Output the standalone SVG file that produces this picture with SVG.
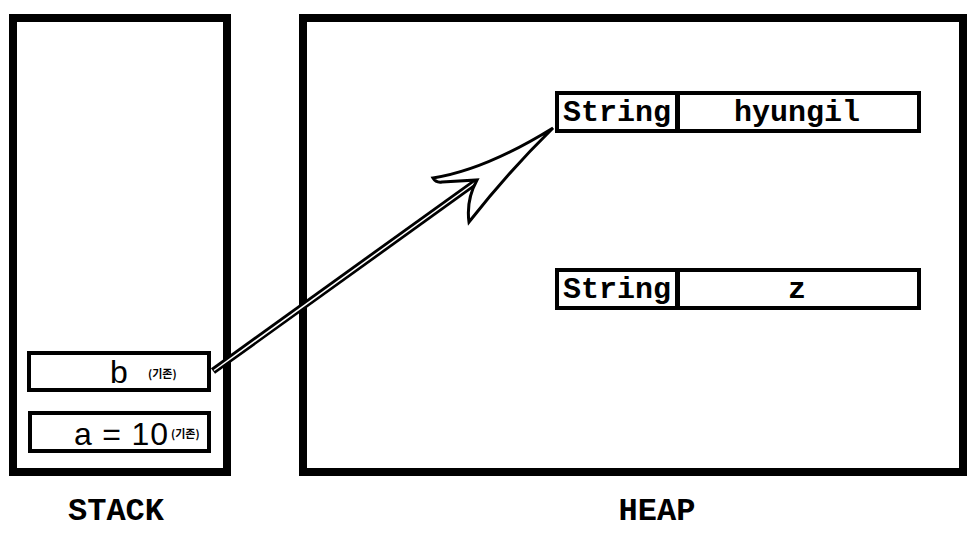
<svg xmlns="http://www.w3.org/2000/svg" width="973" height="536" viewBox="0 0 973 536">
<style>
.frame{fill:#fff;stroke:#000;stroke-width:8}
.cell{fill:#fff;stroke:#000;stroke-width:4}
.mono{font-family:"Liberation Mono","DejaVu Sans Mono",monospace;font-weight:bold;fill:#000}
.sans{font-family:"Liberation Sans","DejaVu Sans",sans-serif;fill:#000}
.kr{font-family:"Noto Sans CJK KR",sans-serif;font-weight:bold;font-size:11px;fill:#000}
.lbl{font-family:"Liberation Mono","DejaVu Sans Mono",monospace;font-weight:bold;font-size:32px;fill:#000}
</style>
<rect width="973" height="536" fill="#fff"/>
<g id="stack">
<rect class="frame" x="13" y="18" width="214" height="454"/>
<text class="lbl" x="116" y="520" text-anchor="middle">STACK</text>
</g>
<g id="heap">
<rect class="frame" x="303" y="18" width="660" height="454"/>
<text class="lbl" x="657" y="520" text-anchor="middle">HEAP</text>
</g>
<g id="var-b">
<rect class="cell" x="29" y="353" width="180" height="37"/>
<text class="sans" x="110" y="383" font-size="32">b</text>
<text class="kr" x="148" y="378">(기존)</text>
</g>
<g id="var-a">
<rect class="cell" x="30" y="413" width="179" height="38"/>
<text class="sans" x="74" y="445" font-size="32" textLength="94" lengthAdjust="spacing">a = 10</text>
<text class="kr" x="171" y="438">(기존)</text>
</g>
<g id="obj-hyungil">
<rect class="cell" x="557" y="93" width="362" height="38"/>
<line x1="677.5" y1="93" x2="677.5" y2="131" stroke="#000" stroke-width="5"/>
<text class="mono" x="617" y="121" font-size="30" text-anchor="middle">String</text>
<text class="mono" x="797" y="121" font-size="30" text-anchor="middle">hyungil</text>
</g>
<g id="obj-z">
<rect class="cell" x="557" y="270" width="362" height="38"/>
<line x1="677.5" y1="270" x2="677.5" y2="308" stroke="#000" stroke-width="5"/>
<text class="mono" x="617" y="298" font-size="30" text-anchor="middle">String</text>
<text class="mono" x="797" y="298" font-size="30" text-anchor="middle">z</text>
</g>
<g id="connectors">
<line x1="213" y1="371" x2="480" y2="179" stroke="#000" stroke-width="7"/>
<line x1="214" y1="370.5" x2="480" y2="179" stroke="#fff" stroke-width="1.5"/>
<path d="M553,128 Q485,170 433,178 Q436,183 442,182 L477,180 Q466,200 469,222 Q510,170 553,128 Z" fill="#fff" stroke="#000" stroke-width="3" stroke-linejoin="miter"/>
</g>
</svg>
